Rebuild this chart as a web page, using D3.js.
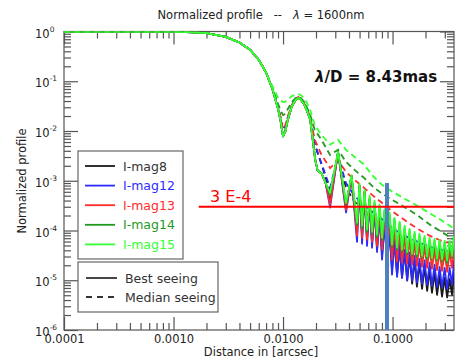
<!DOCTYPE html>
<html>
<head>
<meta charset="utf-8">
<script src="https://cdn.jsdelivr.net/npm/d3@7"></script>
<style>
  body { margin: 0; background: #fff; }
  svg { font-family: "DejaVu Sans", sans-serif; }
</style>
</head>
<body>
<svg id="chart" width="455" height="360"></svg>
<script>
// ---- data ----
const magNames = ["I-mag8", "I-mag12", "I-mag13", "I-mag14", "I-mag15"];
const magColors = ["#1a1a1a", "#2b2bff", "#ff2b2b", "#1f9a1f", "#33ff33"];

// core of the PSF, shared by the best-seeing curves
const radiusCore = [0.0001, 0.0005, 0.001, 0.0015, 0.002, 0.003, 0.004, 0.005, 0.006, 0.007, 0.008, 0.009, 0.0095, 0.010, 0.0105, 0.011, 0.012, 0.013, 0.0138, 0.0145, 0.0155, 0.0165, 0.0177, 0.0188, 0.0197, 0.0207, 0.0225, 0.0245];
const coreBest = [1.0, 1.0, 0.99, 0.965, 0.93, 0.78, 0.60, 0.43, 0.27, 0.15, 0.07, 0.028, 0.016, 0.0078, 0.0098, 0.016, 0.031, 0.042, 0.046, 0.043, 0.035, 0.026, 0.017, 0.006, 0.0026, 0.0016, 0.0014, 0.0009];

// halo (rings) for best seeing
const radiusHalo = [0.0269, 0.0318, 0.0376, 0.0422, 0.0474, 0.0499, 0.0527, 0.0555, 0.0585, 0.0617, 0.0650, 0.0685, 0.0722, 0.0761, 0.0802, 0.0845, 0.0891, 0.0939, 0.0989, 0.104, 0.110, 0.116, 0.122, 0.129, 0.136, 0.143, 0.151, 0.159, 0.167, 0.176, 0.186, 0.196, 0.207, 0.218, 0.229, 0.242, 0.255, 0.269, 0.283, 0.299, 0.315, 0.332, 0.349, 0.364];
const haloMag8Best = [3.8e-4, 3.8e-3, 2.9e-4, 1.25e-3, 9.4e-5, 7.9e-4, 7.8e-5, 6.0e-4, 6.5e-5, 4.1e-4, 5.4e-5, 2.9e-4, 4.1e-5, 2.1e-4, 3.1e-5, 1.5e-4, 2.35e-5, 1.03e-4, 1.6e-5, 6.5e-5, 1.3e-5, 4.9e-5, 1.12e-5, 3.7e-5, 9.8e-6, 3.1e-5, 8.5e-6, 2.6e-5, 7.4e-6, 2.15e-5, 6.7e-6, 1.86e-5, 6.1e-6, 1.6e-5, 5.6e-6, 1.4e-5, 5.1e-6, 1.23e-5, 4.7e-6, 1.12e-5, 4.5e-6, 1.07e-5, 5.1e-6, 1.48e-5];
const haloMag12Best = [2.9e-4, 3.8e-3, 2.3e-4, 1.25e-3, 5.9e-5, 7.9e-4, 5.4e-5, 6.0e-4, 4.9e-5, 4.1e-4, 4.5e-5, 2.9e-4, 3.7e-5, 2.1e-4, 2.6e-5, 1.5e-4, 1.8e-5, 1.03e-4, 1.3e-5, 6.5e-5, 1.17e-5, 5.2e-5, 1.12e-5, 4.1e-5, 1.0e-5, 3.6e-5, 9.8e-6, 3.1e-5, 8.9e-6, 2.7e-5, 8.5e-6, 2.5e-5, 8.1e-6, 2.25e-5, 7.7e-6, 2.05e-5, 7.4e-6, 1.86e-5, 7.0e-6, 1.78e-5, 6.7e-6, 1.78e-5, 8.1e-6, 2.35e-5];
const haloMag13Best = [3.3e-4, 3.8e-3, 2.6e-4, 1.25e-3, 7.8e-5, 7.9e-4, 7.1e-5, 6.0e-4, 6.5e-5, 4.3e-4, 5.9e-5, 3.3e-4, 4.9e-5, 2.6e-4, 4.1e-5, 2.1e-4, 3.3e-5, 1.7e-4, 2.6e-5, 1.25e-4, 2.35e-5, 9.4e-5, 2.25e-5, 7.8e-5, 2.15e-5, 6.8e-5, 2.05e-5, 5.9e-5, 1.95e-5, 5.4e-5, 1.86e-5, 4.9e-5, 1.78e-5, 4.5e-5, 1.7e-5, 4.1e-5, 1.6e-5, 3.9e-5, 1.55e-5, 3.7e-5, 1.48e-5, 3.7e-5, 1.78e-5, 4.1e-5];
const haloMag14Best = [5.2e-4, 3.8e-3, 3.3e-4, 1.25e-3, 1.3e-4, 7.9e-4, 1.1e-4, 6.0e-4, 9.4e-5, 4.5e-4, 8.6e-5, 3.6e-4, 7.5e-5, 3.0e-4, 6.5e-5, 2.5e-4, 5.7e-5, 2.1e-4, 4.7e-5, 1.7e-4, 4.1e-5, 1.4e-4, 3.7e-5, 1.1e-4, 3.4e-5, 1.0e-4, 3.1e-5, 8.6e-5, 3.0e-5, 7.8e-5, 2.8e-5, 7.1e-5, 2.7e-5, 6.5e-5, 2.6e-5, 6.2e-5, 2.5e-5, 5.9e-5, 2.35e-5, 5.7e-5, 2.25e-5, 5.7e-5, 2.8e-5, 7.1e-5];
const haloMag15Best = [5.7e-4, 3.8e-3, 3.6e-4, 1.3e-3, 1.43e-4, 8.7e-4, 1.25e-4, 6.6e-4, 1.04e-4, 5.0e-4, 9.4e-5, 4.0e-4, 8.2e-5, 3.3e-4, 7.1e-5, 2.7e-4, 6.2e-5, 2.3e-4, 5.2e-5, 1.8e-4, 4.5e-5, 1.5e-4, 4.1e-5, 1.25e-4, 3.7e-5, 1.08e-4, 3.4e-5, 9.4e-5, 3.3e-5, 8.6e-5, 3.1e-5, 7.8e-5, 3.0e-5, 7.1e-5, 2.8e-5, 6.8e-5, 2.7e-5, 6.5e-5, 2.6e-5, 6.2e-5, 2.5e-5, 6.2e-5, 3.1e-5, 7.8e-5];

// median seeing (dashed)
const radiusMedian = [0.0001, 0.0005, 0.001, 0.0015, 0.002, 0.003, 0.004, 0.005, 0.006, 0.007, 0.008, 0.009, 0.0095, 0.010, 0.0105, 0.011, 0.012, 0.013, 0.0138, 0.0145, 0.0155, 0.0165, 0.0177, 0.0195, 0.0225, 0.0269, 0.0318, 0.0376, 0.045, 0.055, 0.065, 0.08, 0.1, 0.13, 0.17, 0.22, 0.28, 0.364];
const medianMag8 = [1.0, 1.0, 0.99, 0.965, 0.93, 0.78, 0.60, 0.43, 0.27, 0.15, 0.072, 0.03, 0.018, 0.0105, 0.012, 0.018, 0.032, 0.043, 0.047, 0.044, 0.036, 0.027, 0.018, 0.0053, 0.0021, 6.0e-4, 3.3e-3, 7.2e-4, 3.8e-4, 2.4e-4, 1.7e-4, 1.1e-4, 7.8e-5, 5.4e-5, 4.1e-5, 3.3e-5, 2.7e-5, 2.35e-5];
const medianMag12 = [1.0, 1.0, 0.99, 0.965, 0.93, 0.78, 0.60, 0.43, 0.27, 0.15, 0.072, 0.03, 0.018, 0.0105, 0.012, 0.018, 0.032, 0.043, 0.047, 0.044, 0.036, 0.027, 0.018, 0.0055, 0.0022, 7.2e-4, 3.1e-3, 9.0e-4, 4.9e-4, 3.3e-4, 2.4e-4, 1.7e-4, 1.1e-4, 7.8e-5, 5.9e-5, 4.7e-5, 4.1e-5, 3.4e-5];
const medianMag13 = [1.0, 1.0, 0.99, 0.965, 0.93, 0.78, 0.60, 0.43, 0.27, 0.15, 0.073, 0.031, 0.019, 0.011, 0.013, 0.019, 0.033, 0.044, 0.048, 0.045, 0.037, 0.028, 0.019, 6.6e-3, 3.3e-3, 1.8e-3, 2.6e-3, 1.5e-3, 1.04e-3, 7.2e-4, 5.2e-4, 3.6e-4, 2.4e-4, 1.6e-4, 1.08e-4, 7.8e-5, 6.2e-5, 5.2e-5];
const medianMag14 = [1.0, 1.0, 0.99, 0.965, 0.93, 0.78, 0.60, 0.43, 0.27, 0.15, 0.075, 0.035, 0.026, 0.021, 0.022, 0.027, 0.038, 0.046, 0.048, 0.046, 0.039, 0.030, 0.021, 0.0105, 6.6e-3, 3.3e-3, 4.2e-3, 2.4e-3, 1.65e-3, 1.14e-3, 7.9e-4, 5.5e-4, 4.1e-4, 2.9e-4, 2.0e-4, 1.3e-4, 9.4e-5, 6.5e-5];
const medianMag15 = [1.0, 1.0, 0.99, 0.965, 0.93, 0.78, 0.60, 0.43, 0.27, 0.15, 0.08, 0.047, 0.041, 0.038, 0.039, 0.043, 0.050, 0.054, 0.055, 0.053, 0.046, 0.037, 0.026, 0.013, 8.3e-3, 5.3e-3, 6.6e-3, 4.2e-3, 3.0e-3, 2.1e-3, 1.3e-3, 8.3e-4, 6.0e-4, 4.3e-4, 3.1e-4, 2.2e-4, 1.6e-4, 1.1e-4];

const haloBest = [haloMag8Best, haloMag12Best, haloMag13Best, haloMag14Best, haloMag15Best];
const medianAll = [medianMag8, medianMag12, medianMag13, medianMag14, medianMag15];

const xTickValues = [0.0001, 0.001, 0.01, 0.1];
const xTickLabels = ["0.0001", "0.0010", "0.0100", "0.1000"];
const yTickExponents = [0, -1, -2, -3, -4, -5, -6];

const limitLevel = 3e-4, limitStart = 0.0017;
const barRadius = 0.089, barTop = 9e-4;

// ---- chart ----
const svg = d3.select("#chart");
const x = d3.scaleLog().domain([1e-4, 0.364]).range([64, 454]);
const y = d3.scaleLog().domain([1e-6, 1]).range([330, 31.5]);
const axisColor = "#555";

svg.append("defs").append("clipPath").attr("id", "plot")
  .append("rect").attr("x", 64).attr("y", 31.5).attr("width", 390).attr("height", 298.5);

// minor tick values
const xMinor = [], yMinor = [];
for (let e = -4; e <= -1; e++) for (let m = 2; m <= 9; m++) { const v = m * Math.pow(10, e); if (v <= 0.364) xMinor.push(v); }
for (let e = -6; e <= -1; e++) for (let m = 2; m <= 9; m++) yMinor.push(m * Math.pow(10, e));

function styleAxis(g) {
  g.select(".domain").remove();
  g.selectAll(".tick line").attr("stroke", axisColor).attr("stroke-width", 1.2);
}

// bottom / top
svg.append("g").attr("transform", "translate(0,330)")
  .call(d3.axisBottom(x).tickValues(xTickValues).tickSize(-13).tickPadding(5)
    .tickFormat((d, i) => xTickLabels[i]))
  .call(styleAxis)
  .call(g => g.selectAll("text").attr("font-size", 11.5).attr("fill", "#222")
    .attr("font-family", "DejaVu Sans"));
svg.append("g").attr("transform", "translate(0,330)")
  .call(d3.axisBottom(x).tickValues(xMinor).tickSize(-7).tickFormat(""))
  .call(styleAxis);
svg.append("g").attr("transform", "translate(0,31.5)")
  .call(d3.axisTop(x).tickValues(xTickValues).tickSize(-13).tickFormat(""))
  .call(styleAxis);
svg.append("g").attr("transform", "translate(0,31.5)")
  .call(d3.axisTop(x).tickValues(xMinor).tickSize(-7).tickFormat(""))
  .call(styleAxis);

// left / right
const yMajor = yTickExponents.map(e => Math.pow(10, e));
svg.append("g").attr("transform", "translate(64,0)")
  .call(d3.axisLeft(y).tickValues(yMajor).tickSize(-14).tickFormat(""))
  .call(styleAxis);
svg.append("g").attr("transform", "translate(64,0)")
  .call(d3.axisLeft(y).tickValues(yMinor).tickSize(-7).tickFormat(""))
  .call(styleAxis);
svg.append("g").attr("transform", "translate(454,0)")
  .call(d3.axisRight(y).tickValues(yMajor).tickSize(-14).tickFormat(""))
  .call(styleAxis);
svg.append("g").attr("transform", "translate(454,0)")
  .call(d3.axisRight(y).tickValues(yMinor).tickSize(-7).tickFormat(""))
  .call(styleAxis);

// y tick labels 10^n
yTickExponents.forEach(e => {
  const t = svg.append("text").attr("x", 35).attr("y", y(Math.pow(10, e)) + 6)
    .attr("font-size", 11.5).attr("fill", "#222");
  t.append("tspan").text("10");
  t.append("tspan").attr("font-size", 7.5).attr("dy", -6).text(String(e));
});

// frame
svg.append("rect").attr("x", 64).attr("y", 31.5).attr("width", 390).attr("height", 298.5)
  .attr("fill", "none").attr("stroke", axisColor).attr("stroke-width", 1.2);

// curves
const line = d3.line().x(d => x(d[0])).y(d => y(d[1]));
const curves = svg.append("g").attr("clip-path", "url(#plot)");
magNames.forEach((name, i) => {
  const best = radiusCore.concat(radiusHalo).map((r, k) => [r, coreBest.concat(haloBest[i])[k]]);
  const median = radiusMedian.map((r, k) => [r, medianAll[i][k]]);
  curves.append("path").datum(best).attr("d", line)
    .attr("fill", "none").attr("stroke", magColors[i]).attr("stroke-width", 1.8)
    .attr("stroke-linejoin", "round");
  curves.append("path").datum(median).attr("d", line)
    .attr("fill", "none").attr("stroke", magColors[i]).attr("stroke-width", 1.8)
    .attr("stroke-dasharray", "6,4");
});

// vertical bar
curves.append("rect")
  .attr("x", x(barRadius) - 2).attr("width", 4)
  .attr("y", y(barTop)).attr("height", y(1e-6) - y(barTop))
  .attr("fill", "#4f81bd");

// 3E-4 limit
curves.append("line")
  .attr("x1", x(limitStart)).attr("x2", x(0.364))
  .attr("y1", y(limitLevel)).attr("y2", y(limitLevel))
  .attr("stroke", "#ff0000").attr("stroke-width", 2);
svg.append("text").attr("x", 210).attr("y", 202).attr("font-size", 16)
  .attr("fill", "#ff0000").text("3 E-4");

// lambda/D label
const lab = svg.append("text").attr("x", 315).attr("y", 82).attr("font-size", 15)
  .attr("font-weight", "bold").attr("fill", "#111");
lab.append("tspan").attr("font-style", "italic").text("λ");
lab.append("tspan").text("/D = 8.43mas");

// title
const title = svg.append("text").attr("x", 261).attr("y", 19).attr("text-anchor", "middle")
  .attr("font-size", 11.5).attr("fill", "#222").style("white-space", "pre");
title.append("tspan").text("Normalized profile   --   ");
title.append("tspan").attr("font-style", "italic").text("λ");
title.append("tspan").text(" = 1600nm");

// axis titles
svg.append("text").attr("x", 261).attr("y", 356).attr("text-anchor", "middle")
  .attr("font-size", 11.5).attr("fill", "#222").text("Distance in [arcsec]");
svg.append("text").attr("transform", "translate(26,181) rotate(-90)").attr("text-anchor", "middle")
  .attr("font-size", 11.5).attr("fill", "#222").text("Normalized profile");

// legend 1: magnitudes
svg.append("rect").attr("x", 78).attr("y", 151).attr("width", 105).attr("height", 108)
  .attr("fill", "#fff").attr("stroke", "#666").attr("stroke-width", 1.2);
magNames.forEach((name, i) => {
  const cy = 166 + i * 19.6;
  svg.append("line").attr("x1", 85).attr("x2", 115).attr("y1", cy).attr("y2", cy)
    .attr("stroke", magColors[i]).attr("stroke-width", 1.8);
  svg.append("text").attr("x", 123).attr("y", cy + 4.5).attr("font-size", 12.5)
    .attr("fill", i === 0 ? "#333" : magColors[i]).text(name);
});

// legend 2: seeing
const seeingNames = ["Best seeing", "Median seeing"];
svg.append("rect").attr("x", 78).attr("y", 262).attr("width", 140).attr("height", 50)
  .attr("fill", "#fff").attr("stroke", "#666").attr("stroke-width", 1.2);
seeingNames.forEach((name, i) => {
  const cy = 278 + i * 19;
  svg.append("line").attr("x1", 86).attr("x2", 117).attr("y1", cy).attr("y2", cy)
    .attr("stroke", "#333").attr("stroke-width", 1.8)
    .attr("stroke-dasharray", i === 0 ? null : "6,5");
  svg.append("text").attr("x", 125).attr("y", cy + 4.5).attr("font-size", 12.5)
    .attr("fill", "#333").text(name);
});
</script>
</body>
</html>
